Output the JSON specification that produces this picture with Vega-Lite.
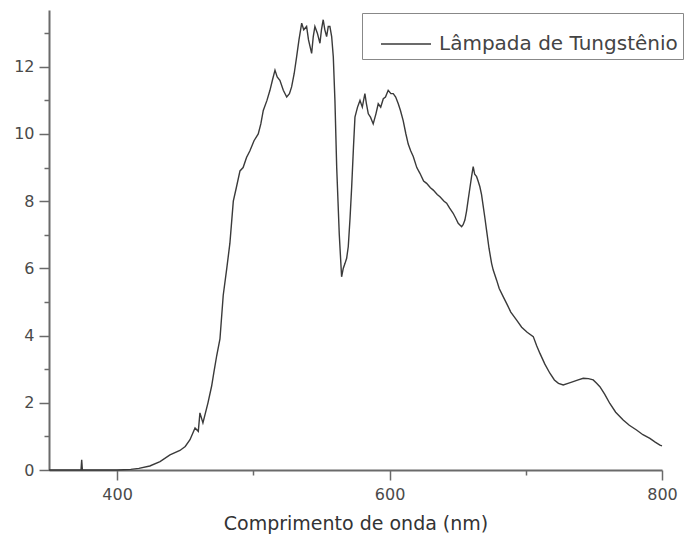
{
  "$schema": "https://vega.github.io/schema/vega-lite/v6.json",
  "width": 613,
  "height": 460,
  "autosize": {"type": "none"},
  "padding": {"left": 49, "top": 10, "right": 30, "bottom": 72},
  "background": "white",
  "config": {
    "view": {"stroke": null},
    "font": "DejaVu Sans",
    "axis": {
      "grid": false,
      "domainColor": "#6a6a6a",
      "domainWidth": 2,
      "tickColor": "#6a6a6a",
      "tickWidth": 1.5,
      "labelColor": "#4a4a4a",
      "labelFont": "DejaVu Sans",
      "labelFontSize": 16,
      "titleFont": "DejaVu Sans",
      "titleColor": "#333",
      "titleFontWeight": "normal"
    }
  },
  "data": {
    "values": [
      {"nm": 350, "v": 0}, {"nm": 373.5, "v": 0}, {"nm": 374, "v": 0.3}, {"nm": 374.5, "v": 0},
      {"nm": 400, "v": 0}, {"nm": 410, "v": 0.02}, {"nm": 416, "v": 0.05}, {"nm": 424, "v": 0.12},
      {"nm": 431.5, "v": 0.25}, {"nm": 438.8, "v": 0.45}, {"nm": 446.1, "v": 0.58}, {"nm": 450, "v": 0.7},
      {"nm": 453.5, "v": 0.9}, {"nm": 457.2, "v": 1.25}, {"nm": 459.6, "v": 1.15}, {"nm": 460.8, "v": 1.7},
      {"nm": 463, "v": 1.4}, {"nm": 466.7, "v": 2.0}, {"nm": 469.4, "v": 2.5}, {"nm": 471, "v": 2.9},
      {"nm": 473.1, "v": 3.4}, {"nm": 475.5, "v": 3.9}, {"nm": 477.9, "v": 5.2}, {"nm": 480.5, "v": 6.0},
      {"nm": 482.8, "v": 6.75}, {"nm": 485.3, "v": 8.0}, {"nm": 487.5, "v": 8.4}, {"nm": 490.2, "v": 8.9},
      {"nm": 492.5, "v": 9.0}, {"nm": 495, "v": 9.3}, {"nm": 497.5, "v": 9.5}, {"nm": 500.5, "v": 9.8},
      {"nm": 503.6, "v": 10.0}, {"nm": 505.5, "v": 10.3}, {"nm": 507.3, "v": 10.7}, {"nm": 510, "v": 11.0},
      {"nm": 512.2, "v": 11.3}, {"nm": 514, "v": 11.6}, {"nm": 515.9, "v": 11.9}, {"nm": 517.5, "v": 11.7},
      {"nm": 519.5, "v": 11.6}, {"nm": 522, "v": 11.3}, {"nm": 524.5, "v": 11.1}, {"nm": 526.5, "v": 11.2},
      {"nm": 528.1, "v": 11.4}, {"nm": 530, "v": 11.8}, {"nm": 531.8, "v": 12.3}, {"nm": 533.5, "v": 12.8},
      {"nm": 535.5, "v": 13.3}, {"nm": 537, "v": 13.1}, {"nm": 539.1, "v": 13.2}, {"nm": 540.5, "v": 12.8},
      {"nm": 542.8, "v": 12.4}, {"nm": 544, "v": 12.9}, {"nm": 545.2, "v": 13.2}, {"nm": 547, "v": 13.0},
      {"nm": 548.9, "v": 12.7}, {"nm": 550, "v": 13.1}, {"nm": 551.3, "v": 13.4}, {"nm": 552.5, "v": 13.1},
      {"nm": 553.8, "v": 12.9}, {"nm": 555, "v": 13.2}, {"nm": 556.2, "v": 13.2}, {"nm": 557.5, "v": 12.9},
      {"nm": 558.7, "v": 12.3}, {"nm": 559.9, "v": 11.0}, {"nm": 561.2, "v": 9.0}, {"nm": 563.1, "v": 7.0},
      {"nm": 564.8, "v": 5.75}, {"nm": 566, "v": 6.0}, {"nm": 567.3, "v": 6.15}, {"nm": 568.5, "v": 6.3},
      {"nm": 569.7, "v": 6.65}, {"nm": 571, "v": 7.5}, {"nm": 572.2, "v": 8.43}, {"nm": 573.5, "v": 9.6},
      {"nm": 574.6, "v": 10.5}, {"nm": 576.5, "v": 10.8}, {"nm": 578.3, "v": 11.0}, {"nm": 580, "v": 10.8},
      {"nm": 581.9, "v": 11.2}, {"nm": 583, "v": 10.9}, {"nm": 584.4, "v": 10.6}, {"nm": 586, "v": 10.5},
      {"nm": 588, "v": 10.3}, {"nm": 590, "v": 10.6}, {"nm": 591.7, "v": 10.9}, {"nm": 593.5, "v": 10.8},
      {"nm": 595.4, "v": 11.05}, {"nm": 597, "v": 11.1}, {"nm": 599, "v": 11.3}, {"nm": 601, "v": 11.2},
      {"nm": 602.7, "v": 11.2}, {"nm": 604.5, "v": 11.1}, {"nm": 606.4, "v": 10.9}, {"nm": 608, "v": 10.7},
      {"nm": 610, "v": 10.4}, {"nm": 612, "v": 10.0}, {"nm": 613.7, "v": 9.7}, {"nm": 615.5, "v": 9.5},
      {"nm": 617.4, "v": 9.33}, {"nm": 620, "v": 9.0}, {"nm": 622.3, "v": 8.83}, {"nm": 625, "v": 8.6},
      {"nm": 627.2, "v": 8.53}, {"nm": 630, "v": 8.4}, {"nm": 632.1, "v": 8.33}, {"nm": 635, "v": 8.2},
      {"nm": 637, "v": 8.13}, {"nm": 640, "v": 8.0}, {"nm": 641.9, "v": 7.94}, {"nm": 644, "v": 7.8},
      {"nm": 646.7, "v": 7.64}, {"nm": 648.5, "v": 7.5}, {"nm": 650.4, "v": 7.34}, {"nm": 652.9, "v": 7.24},
      {"nm": 654, "v": 7.3}, {"nm": 655.3, "v": 7.44}, {"nm": 656.5, "v": 7.7}, {"nm": 657.7, "v": 8.04},
      {"nm": 659, "v": 8.4}, {"nm": 660.2, "v": 8.73}, {"nm": 661.4, "v": 9.03}, {"nm": 662.5, "v": 8.8},
      {"nm": 663.9, "v": 8.73}, {"nm": 665, "v": 8.6}, {"nm": 666.3, "v": 8.43}, {"nm": 667.5, "v": 8.2},
      {"nm": 668.8, "v": 7.84}, {"nm": 670, "v": 7.5}, {"nm": 671.2, "v": 7.14}, {"nm": 673, "v": 6.6},
      {"nm": 674.9, "v": 6.15}, {"nm": 676.1, "v": 5.95}, {"nm": 678.6, "v": 5.65}, {"nm": 680.5, "v": 5.4},
      {"nm": 683.4, "v": 5.16}, {"nm": 685.9, "v": 4.96}, {"nm": 689, "v": 4.7}, {"nm": 693.3, "v": 4.46},
      {"nm": 697, "v": 4.25}, {"nm": 701, "v": 4.1}, {"nm": 705.5, "v": 3.97}, {"nm": 708, "v": 3.7},
      {"nm": 710.4, "v": 3.47}, {"nm": 714, "v": 3.15}, {"nm": 717.7, "v": 2.88}, {"nm": 721, "v": 2.68},
      {"nm": 724, "v": 2.58}, {"nm": 727.5, "v": 2.53}, {"nm": 731, "v": 2.58}, {"nm": 734.8, "v": 2.63},
      {"nm": 738.5, "v": 2.68}, {"nm": 742.2, "v": 2.73}, {"nm": 746, "v": 2.72}, {"nm": 749.5, "v": 2.68},
      {"nm": 752, "v": 2.58}, {"nm": 754.4, "v": 2.48}, {"nm": 758, "v": 2.25}, {"nm": 761.7, "v": 1.98},
      {"nm": 766, "v": 1.72}, {"nm": 771.5, "v": 1.49}, {"nm": 776, "v": 1.33}, {"nm": 781.3, "v": 1.19},
      {"nm": 786, "v": 1.05}, {"nm": 791.1, "v": 0.94}, {"nm": 795, "v": 0.83}, {"nm": 798.5, "v": 0.74},
      {"nm": 800, "v": 0.72}
    ]
  },
  "mark": {"type": "line", "strokeWidth": 1.4, "interpolate": "linear"},
  "encoding": {
    "x": {
      "field": "nm",
      "type": "quantitative",
      "scale": {"domain": [350, 800], "nice": false, "zero": false},
      "axis": {
        "title": "Comprimento de onda (nm)",
        "titleFontSize": 19,
        "titlePadding": 12,
        "values": [400, 500, 600, 700, 800],
        "labelExpr": "datum.value % 200 === 0 ? datum.label : ''",
        "tickSize": {"condition": {"test": "datum.value % 200 === 0", "value": 10}, "value": 5},
        "labelPadding": 6,
        "labelFlush": false
      }
    },
    "y": {
      "field": "v",
      "type": "quantitative",
      "scale": {"domain": [0, 13.69], "nice": false},
      "axis": {
        "title": null,
        "values": [0, 1, 2, 3, 4, 5, 6, 7, 8, 9, 10, 11, 12, 13],
        "labelExpr": "datum.value % 2 === 0 ? datum.label : ''",
        "tickSize": {"condition": {"test": "datum.value % 2 === 0", "value": 10}, "value": 5},
        "labelPadding": 5,
        "labelFlush": false
      }
    },
    "color": {
      "datum": "Lâmpada de Tungstênio",
      "type": "nominal",
      "scale": {"range": ["#3a3a3a"]},
      "legend": {
        "title": null,
        "orient": "none",
        "legendX": 313,
        "legendY": 3,
        "strokeColor": "#888",
        "padding": 5,
        "symbolType": "stroke",
        "symbolSize": 2500,
        "symbolStrokeColor": "#888",
        "symbolStrokeWidth": 1.5,
        "symbolOffset": 13,
        "labelOffset": 7,
        "labelFont": "DejaVu Sans",
        "labelFontSize": 20,
        "labelColor": "#444",
        "labelLimit": 400
      }
    }
  }
}
